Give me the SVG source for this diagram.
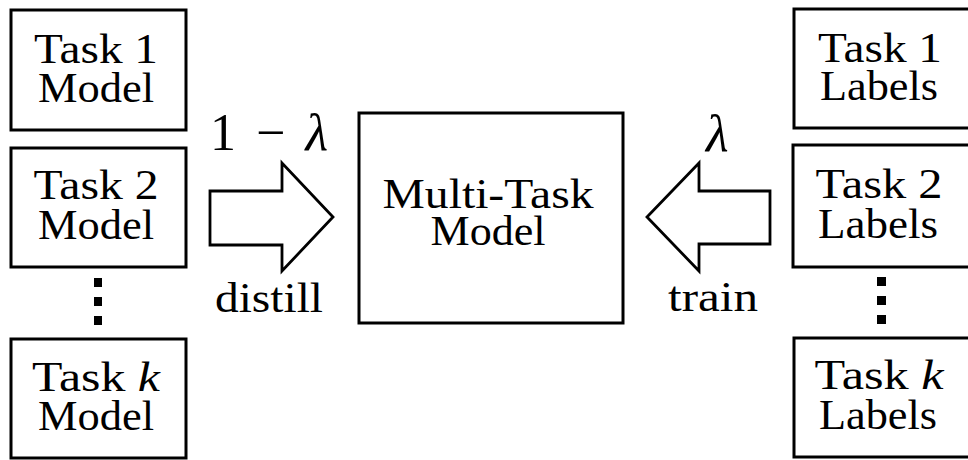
<svg xmlns="http://www.w3.org/2000/svg" width="968" height="460" viewBox="0 0 968 460">
<style>
.box{fill:#fff;stroke:#000;stroke-width:3}
.arr{fill:#fff;stroke:#000;stroke-width:2.8;stroke-linejoin:miter}
.t{font-family:'Liberation Serif','DejaVu Serif','Times New Roman',serif;font-size:43px;fill:#000;text-anchor:middle}
.m{font-family:'Liberation Serif','DejaVu Serif','Times New Roman',serif;font-size:52px;fill:#000}
.dot{fill:#000}
</style>
<rect width="968" height="460" fill="#fff"/>
<g id="task1-model">
<rect class="box" x="11" y="10" width="175" height="120"/>
<text class="t" x="96" y="63" textLength="124" lengthAdjust="spacingAndGlyphs">Task 1</text>
<text class="t" x="96" y="102" textLength="116" lengthAdjust="spacingAndGlyphs">Model</text>
</g>
<g id="task2-model">
<rect class="box" x="11" y="148" width="175" height="119"/>
<text class="t" x="96" y="199" textLength="125" lengthAdjust="spacingAndGlyphs">Task 2</text>
<text class="t" x="96" y="239" textLength="116" lengthAdjust="spacingAndGlyphs">Model</text>
</g>
<g id="left-dots">
<rect class="dot" x="94" y="278" width="8" height="9"/>
<rect class="dot" x="94" y="297" width="8" height="9"/>
<rect class="dot" x="94" y="316" width="8" height="9"/>
</g>
<g id="taskk-model">
<rect class="box" x="11" y="339" width="175" height="119"/>
<text class="t" x="96" y="391" textLength="128" lengthAdjust="spacingAndGlyphs">Task <tspan font-style="italic">k</tspan></text>
<text class="t" x="96" y="430" textLength="116" lengthAdjust="spacingAndGlyphs">Model</text>
</g>
<g id="multitask-model">
<rect class="box" x="359" y="113" width="264" height="210"/>
<text class="t" x="488" y="208" textLength="211" lengthAdjust="spacingAndGlyphs">Multi-Task</text>
<text class="t" x="488" y="245" textLength="115" lengthAdjust="spacingAndGlyphs">Model</text>
</g>
<g id="task1-labels">
<rect class="box" x="794" y="9" width="177" height="119"/>
<text class="t" x="880" y="62" textLength="124" lengthAdjust="spacingAndGlyphs">Task 1</text>
<text class="t" x="879" y="100" textLength="118" lengthAdjust="spacingAndGlyphs">Labels</text>
</g>
<g id="task2-labels">
<rect class="box" x="793" y="145" width="178" height="122"/>
<text class="t" x="879" y="198" textLength="127" lengthAdjust="spacingAndGlyphs">Task 2</text>
<text class="t" x="878" y="238" textLength="120" lengthAdjust="spacingAndGlyphs">Labels</text>
</g>
<g id="right-dots">
<rect class="dot" x="877" y="277" width="9" height="9"/>
<rect class="dot" x="877" y="296" width="9" height="9"/>
<rect class="dot" x="877" y="315" width="9" height="9"/>
</g>
<g id="taskk-labels">
<rect class="box" x="794" y="338" width="177" height="119"/>
<text class="t" x="879" y="389" textLength="129" lengthAdjust="spacingAndGlyphs">Task <tspan font-style="italic">k</tspan></text>
<text class="t" x="878" y="429" textLength="118" lengthAdjust="spacingAndGlyphs">Labels</text>
</g>
<g id="connectors">
<polygon class="arr" points="210,191 282,191 282,163 333,217 282,271 282,245 210,245"/>
<polygon class="arr" points="770,191 699,191 699,163 647,217 699,271 699,244 770,244"/>
<text class="m" x="210" y="150" textLength="118" lengthAdjust="spacing">1 − <tspan font-style="italic">λ</tspan></text>
<text class="m" x="706" y="151" font-style="italic">λ</text>
<text class="t" x="269" y="312" textLength="108" lengthAdjust="spacingAndGlyphs">distill</text>
<text class="t" x="713" y="311" textLength="90" lengthAdjust="spacingAndGlyphs">train</text>
</g>
</svg>
